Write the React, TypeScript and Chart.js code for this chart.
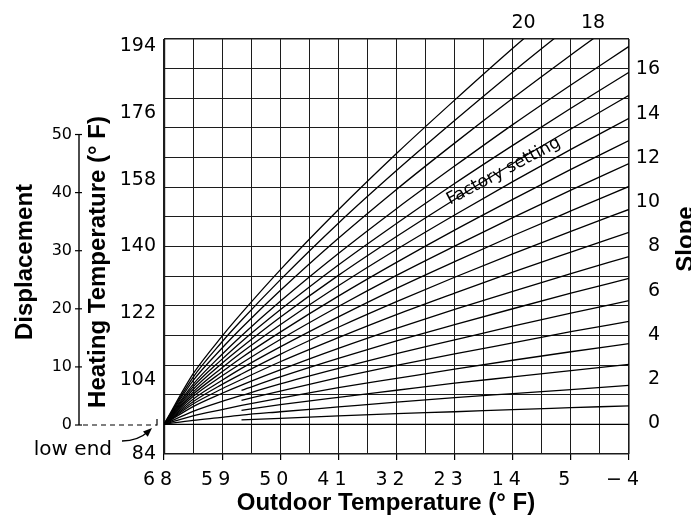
import React, { useEffect, useRef } from 'react';
import { Chart, registerables } from 'chart.js';

Chart.register(...registerables);

// ---------- data ----------
// outdoor temperatures (°F) at which each heating curve is read
const OUTDOOR_F = [68, 63.5, 59, 56, 50, 41, 32, 23, 14, 5, -4];

// heating (flow) temperature °F for each slope; null = curve not drawn there
const SLOPE_0 = [92, 92, 92, 92, 92, 92, 92, 92, 92, 92, 92];
const SLOPE_1 = [null, null, null, 93.2, 93.6, 94.3, 94.9, 95.4, 96.0, 96.5, 97.0];
const SLOPE_2 = [92, 93.1, 93.9, 94.5, 95.4, 96.7, 98.0, 99.2, 100.3, 101.4, 102.5];
const SLOPE_3 = [null, null, null, 95.8, 97.3, 99.3, 101.2, 103.1, 104.8, 106.5, 108.2];
const SLOPE_4 = [92, 94.3, 96.0, 97.1, 99.1, 101.9, 104.4, 106.9, 109.3, 111.6, 113.8];
const SLOPE_5 = [null, null, null, 98.5, 101.0, 104.6, 107.9, 111.0, 114.0, 117.0, 119.8];
const SLOPE_6 = [92, 95.5, 98.2, 99.8, 102.9, 107.1, 111.1, 114.8, 118.5, 122.0, 125.4];
const SLOPE_7 = [null, null, null, 101.2, 104.8, 109.8, 114.5, 118.9, 123.2, 127.4, 131.4];
const SLOPE_8 = [92, 96.8, 100.4, 102.6, 106.7, 112.5, 117.9, 123.0, 127.9, 132.7, 137.3];
const SLOPE_9 = [92, 97.5, 101.6, 104.1, 108.9, 115.4, 121.6, 127.4, 133.1, 138.5, 143.8];
const SLOPE_10 = [92, 98.1, 102.8, 105.6, 110.9, 118.2, 125.1, 131.7, 138.0, 144.1, 150.0];
const SLOPE_11 = [92, 98.8, 103.9, 107.1, 112.9, 121.0, 128.7, 135.9, 142.9, 149.6, 156.2];
const SLOPE_12 = [92, 99.5, 105.1, 108.5, 114.9, 123.8, 132.2, 140.1, 147.8, 155.2, 162.4];
const SLOPE_13 = [92, 100.1, 106.2, 110.0, 116.9, 126.6, 135.7, 144.4, 152.7, 160.8, 168.6];
const SLOPE_14 = [92, 100.7, 107.3, 111.4, 118.9, 129.4, 139.2, 148.5, 157.5, 166.2, 174.6];
const SLOPE_15 = [92, 101.4, 108.5, 112.8, 120.9, 132.2, 142.7, 152.7, 162.4, 171.7, 180.8];
const SLOPE_16 = [92, 102.1, 109.6, 114.3, 122.9, 135.0, 146.2, 157.0, 167.3, 177.3, 187.0];
const SLOPE_17 = [92, 102.8, 110.9, 115.9, 125.2, 138.1, 150.2, 161.7, 172.9, 183.6, 194.0];
const SLOPE_18 = [92, 103.8, 112.6, 118.0, 128.1, 142.2, 155.4, 167.9, 180.0, 191.7, 203.0];
const SLOPE_19 = [92, 104.7, 114.3, 120.1, 131.0, 146.3, 160.5, 174.0, 187.1, 199.7, 212.0];
const SLOPE_20 = [92, 105.6, 115.8, 122.0, 133.7, 149.9, 165.1, 179.5, 193.5, 206.9, 220.0];

const SLOPE_CURVES = [
  SLOPE_0, SLOPE_1, SLOPE_2, SLOPE_3, SLOPE_4, SLOPE_5, SLOPE_6, SLOPE_7,
  SLOPE_8, SLOPE_9, SLOPE_10, SLOPE_11, SLOPE_12, SLOPE_13, SLOPE_14,
  SLOPE_15, SLOPE_16, SLOPE_17, SLOPE_18, SLOPE_19, SLOPE_20,
];

// axes
const OUTDOOR_TICKS = [68, 59, 50, 41, 32, 23, 14, 5, -4];
const OUTDOOR_TICK_LABELS = ['68', '59', '50', '41', '32', '23', '14', '5', '\u22124'];
const OUTDOOR_MIN = -4;
const OUTDOOR_MAX = 68;
const OUTDOOR_GRID_STEP = 4.5;
const HEATING_TICKS = [84, 104, 122, 140, 158, 176, 194];
const HEATING_MIN = 84;
const HEATING_MAX = 196;
const HEATING_GRID_STEP = 8;
const DISPLACEMENT_TICKS = [0, 10, 20, 30, 40, 50];
const SLOPE_TICKS = [0, 2, 4, 6, 8, 10, 12, 14, 16];
const TOP_SLOPES = [20, 18];

// texts
const X_TITLE = 'Outdoor Temperature (\u00B0 F)';
const Y_TITLE = 'Heating Temperature (\u00B0 F)';
const DISP_TITLE = 'Displacement';
const SLOPE_TITLE = 'Slope';
const LOW_END = 'low end';
const FACTORY = 'Factory setting';
const FACTORY_AT = { outdoor: 15.4, heating: 160.3 };

// ---------- styles ----------
const INK = '#000';
const GRID = '#1c1c1c';
const TICK_FONT = "'DejaVu Sans', sans-serif";
const TITLE_FONT = "'Liberation Sans', Arial, sans-serif";
const NO_GRID = { display: false, drawTicks: false, tickLength: 0 };

function gridValues(min: number, max: number, step: number) {
  const out: { value: number }[] = [];
  const n = Math.round((max - min) / step);
  for (let i = 0; i <= n; i++) out.push({ value: min + i * step });
  return out;
}

function exitOutdoor(curve: (number | null)[], limit: number) {
  for (let i = 1; i < curve.length; i++) {
    const a = curve[i - 1];
    const b = curve[i];
    if (a != null && b != null && a < limit && b >= limit) {
      const t = (limit - a) / (b - a);
      return OUTDOOR_F[i - 1] + t * (OUTDOOR_F[i] - OUTDOOR_F[i - 1]);
    }
  }
  return OUTDOOR_MIN;
}

function spaceLabels(scale: any, spacing: string, dx: number) {
  if (scale.__spaced) return;
  scale.__spaced = true;
  const orig = scale.drawLabels;
  scale.drawLabels = function (area: any) {
    const ctx = this.ctx;
    ctx.save();
    ctx.letterSpacing = spacing;
    ctx.translate(dx, 0);
    orig.call(this, area);
    ctx.restore();
  };
}

function rotatedText(ctx: any, text: string, x: number, y: number, angle: number) {
  ctx.save();
  ctx.translate(x, y);
  ctx.rotate(angle);
  ctx.fillText(text, 0, 0);
  ctx.restore();
}

const decorPlugin = {
  id: 'decor',
  afterDraw(chart: any) {
    const { ctx, chartArea, scales } = chart;
    const xs = scales.x;
    const yt = scales.yTemp;
    const yd = scales.yDisp;
    ctx.save();
    ctx.strokeStyle = INK;
    ctx.fillStyle = INK;

    // displacement axis line + tick marks
    const ax = yd.right;
    const d0 = yd.getPixelForValue(DISPLACEMENT_TICKS[0]);
    const dTop = yd.getPixelForValue(DISPLACEMENT_TICKS[DISPLACEMENT_TICKS.length - 1]);
    ctx.lineWidth = 1.4;
    ctx.beginPath();
    ctx.moveTo(ax, d0);
    ctx.lineTo(ax, dTop);
    ctx.stroke();
    ctx.lineWidth = 1.2;
    for (const v of DISPLACEMENT_TICKS) {
      const py = yd.getPixelForValue(v);
      ctx.beginPath();
      ctx.moveTo(ax - 4, py);
      ctx.lineTo(ax + 3, py);
      ctx.stroke();
    }

    // "low end" dashed connector
    const endX = chartArea.left - 7;
    ctx.setLineDash([5, 4]);
    ctx.beginPath();
    ctx.moveTo(ax + 4, d0);
    ctx.lineTo(endX, d0);
    ctx.stroke();
    ctx.setLineDash([]);
    ctx.beginPath();
    ctx.moveTo(endX, d0 + 0.5);
    ctx.lineTo(endX, d0 - 6);
    ctx.stroke();

    // arrow
    const tipX = endX - 5;
    const tipY = d0 + 3;
    const sx = endX - 35;
    const sy = d0 + 16;
    const cx = endX - 19;
    const cy = d0 + 16;
    ctx.lineWidth = 1.3;
    ctx.beginPath();
    ctx.moveTo(sx, sy);
    ctx.quadraticCurveTo(cx, cy, tipX - 3, tipY + 3);
    ctx.stroke();
    const ang = Math.atan2(tipY - cy, tipX - cx);
    const hl = 9;
    const hw = 3.5;
    ctx.beginPath();
    ctx.moveTo(tipX, tipY);
    ctx.lineTo(tipX - hl * Math.cos(ang) + hw * Math.sin(ang), tipY - hl * Math.sin(ang) - hw * Math.cos(ang));
    ctx.lineTo(tipX - hl * Math.cos(ang) - hw * Math.sin(ang), tipY - hl * Math.sin(ang) + hw * Math.cos(ang));
    ctx.closePath();
    ctx.fill();

    ctx.font = `20px ${TICK_FONT}`;
    ctx.textAlign = 'right';
    ctx.textBaseline = 'alphabetic';
    ctx.fillText(LOW_END, endX - 45, d0 + 30);

    // factory setting label
    const fx = xs.getPixelForValue(FACTORY_AT.outdoor);
    const fy = yt.getPixelForValue(FACTORY_AT.heating);
    ctx.font = `17px ${TICK_FONT}`;
    ctx.textAlign = 'center';
    ctx.textBaseline = 'middle';
    rotatedText(ctx, FACTORY, fx, fy, (-28 * Math.PI) / 180);

    // titles
    ctx.font = `bold 24px ${TITLE_FONT}`;
    ctx.textAlign = 'center';
    ctx.textBaseline = 'alphabetic';
    rotatedText(ctx, DISP_TITLE, 32, 262, -Math.PI / 2);
    rotatedText(ctx, Y_TITLE, 105, 262, -Math.PI / 2);
    rotatedText(ctx, SLOPE_TITLE, 693, 239, -Math.PI / 2);
    ctx.fillText(X_TITLE, 386, 510);

    ctx.restore();
  },
};

export default function App() {
  const ref = useRef<HTMLCanvasElement>(null);

  useEffect(() => {
    document.body.style.margin = '0';
    const canvas = ref.current;
    if (!canvas) return;

    const datasets = SLOPE_CURVES.map((curve, s) => ({
      label: `Slope ${s}`,
      data: curve
        .map((h, i) => (h == null ? null : { x: OUTDOOR_F[i], y: h }))
        .filter((p) => p !== null),
      xAxisID: 'x',
      yAxisID: 'yTemp',
      borderColor: INK,
      borderWidth: 1.3,
      pointRadius: 0,
      fill: false,
      cubicInterpolationMode: 'monotone',
    }));

    const tickFont = (size: number) => ({ family: TICK_FONT, size });

    const chart = new Chart(canvas, {
      type: 'line',
      data: { datasets } as any,
      plugins: [decorPlugin],
      options: {
        animation: false,
        responsive: false,
        maintainAspectRatio: false,
        events: [],
        layout: { padding: { left: 0, top: 0, bottom: 0, right: 31 } },
        plugins: { legend: { display: false }, tooltip: { enabled: false } },
        scales: {
          x: {
            type: 'linear',
            position: 'bottom',
            weight: 1,
            min: OUTDOOR_MIN,
            max: OUTDOOR_MAX,
            reverse: true,
            afterBuildTicks: (s: any) => {
              s.ticks = OUTDOOR_TICKS.map((v) => ({ value: v }));
            },
            afterFit: (s: any) => {
              s.height = 67;
              spaceLabels(s, '5px', -4);
            },
            ticks: {
              autoSkip: false,
              maxRotation: 0,
              padding: 9,
              color: INK,
              font: tickFont(19),
              callback: (v: any) => OUTDOOR_TICK_LABELS[OUTDOOR_TICKS.indexOf(Number(v))] ?? '',
            },
            grid: { display: true, drawOnChartArea: false, drawTicks: true, tickLength: 6, color: INK, lineWidth: 1.2 },
            border: { display: false },
          },
          gx: {
            type: 'linear',
            position: 'bottom',
            weight: 0,
            min: OUTDOOR_MIN,
            max: OUTDOOR_MAX,
            reverse: true,
            afterBuildTicks: (s: any) => {
              s.ticks = gridValues(OUTDOOR_MIN, OUTDOOR_MAX, OUTDOOR_GRID_STEP);
            },
            afterFit: (s: any) => {
              s.height = 0;
            },
            ticks: { display: false },
            grid: {
              drawTicks: false,
              color: GRID,
              lineWidth: (c: any) => {
                const v = c.tick ? c.tick.value : null;
                if (v === OUTDOOR_MAX) return 2.2;
                if (v === OUTDOOR_MIN) return 1.6;
                return 1;
              },
            },
            border: { display: false },
          },
          x2: {
            type: 'linear',
            position: 'top',
            min: OUTDOOR_MIN,
            max: OUTDOOR_MAX,
            reverse: true,
            afterBuildTicks: (s: any) => {
              s.ticks = TOP_SLOPES.map((sl) => ({ value: exitOutdoor(SLOPE_CURVES[sl], HEATING_MAX) }));
            },
            afterFit: (s: any) => {
              s.height = 39;
            },
            ticks: {
              autoSkip: false,
              maxRotation: 0,
              padding: 5,
              color: INK,
              font: tickFont(19),
              callback: (_v: any, i: number) => String(TOP_SLOPES[i]),
            },
            grid: NO_GRID,
            border: { display: false },
          },
          gy: {
            type: 'linear',
            position: 'left',
            weight: 0,
            min: HEATING_MIN,
            max: HEATING_MAX,
            afterBuildTicks: (s: any) => {
              s.ticks = gridValues(HEATING_MIN, HEATING_MAX, HEATING_GRID_STEP);
            },
            afterFit: (s: any) => {
              s.width = 0;
            },
            ticks: { display: false },
            grid: {
              drawTicks: false,
              color: GRID,
              lineWidth: (c: any) => {
                const v = c.tick ? c.tick.value : null;
                return v === HEATING_MIN || v === HEATING_MAX ? 1.6 : 1;
              },
            },
            border: { display: false },
          },
          yTemp: {
            type: 'linear',
            position: 'left',
            weight: 1,
            min: HEATING_MIN,
            max: HEATING_MAX,
            afterBuildTicks: (s: any) => {
              s.ticks = HEATING_TICKS.map((v) => ({ value: v }));
            },
            afterFit: (s: any) => {
              s.width = 85;
            },
            ticks: { autoSkip: false, padding: 8, color: INK, font: tickFont(19), callback: (v: any) => String(v) },
            grid: NO_GRID,
            border: { display: false },
          },
          yDisp: {
            type: 'linear',
            position: 'left',
            weight: 2,
            min: -4.99,
            max: 66.44,
            afterBuildTicks: (s: any) => {
              s.ticks = DISPLACEMENT_TICKS.map((v) => ({ value: v }));
            },
            afterFit: (s: any) => {
              s.width = 79;
            },
            ticks: { autoSkip: false, padding: 7, color: INK, font: tickFont(16), callback: (v: any) => String(v) },
            grid: NO_GRID,
            border: { display: false },
          },
          ySlope: {
            type: 'linear',
            position: 'right',
            min: -1.38,
            max: 17.38,
            afterBuildTicks: (s: any) => {
              s.ticks = SLOPE_TICKS.map((v) => ({ value: v }));
            },
            afterFit: (s: any) => {
              s.width = 31;
            },
            ticks: { autoSkip: false, padding: 7, crossAlign: 'far', color: INK, font: tickFont(19), callback: (v: any) => String(v) },
            grid: NO_GRID,
            border: { display: false },
          },
        },
      } as any,
    });

    return () => chart.destroy();
  }, []);

  return (
    <div style={{ width: 691, height: 521, background: '#fff' }}>
      <canvas ref={ref} width={691} height={521} style={{ display: 'block', width: 691, height: 521 }} />
    </div>
  );
}
